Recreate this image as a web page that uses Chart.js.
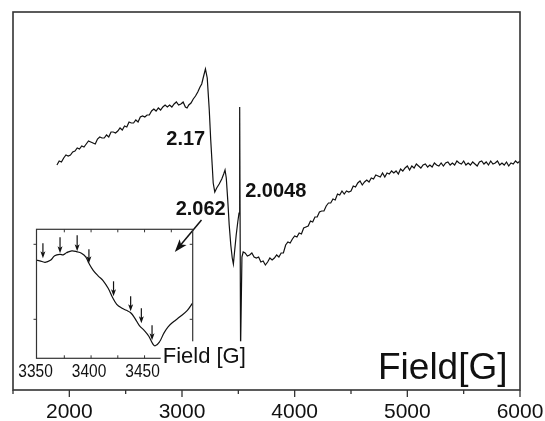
<!DOCTYPE html>
<html>
<head>
<meta charset="utf-8">
<script src="https://cdn.jsdelivr.net/npm/chart.js@4.4.1/dist/chart.umd.min.js"></script>
<style>
  body { margin: 0; background: #fff; }
  #wrap { position: relative; width: 545px; height: 421px; }
  #wrap canvas { position: absolute; left: 0; top: 0; }
</style>
</head>
<body>
<div id="wrap">
  <canvas id="epr" width="545" height="421"></canvas>
  <canvas id="inset" width="545" height="421"></canvas>
</div>
<script>
// main EPR spectrum, field in G, signal in arbitrary units
const fieldG = [
  1890,1910,1930,1950,1970,1990,2010,2030,2050,2070,
  2090,2110,2130,2150,2170,2190,2210,2230,2250,2270,
  2290,2310,2330,2350,2370,2390,2410,2430,2450,2470,
  2490,2510,2530,2550,2570,2590,2610,2630,2650,2670,
  2690,2710,2730,2750,2770,2790,2810,2830,2850,2870,
  2890,2910,2930,2950,2970,2990,3010,3030,
  3045,3060,3080,3100,3120,3140,3160,3175,3190,3208,
  3224,3242,3255,3268,3277,3291,3308,3330,3353,3370,
  3382,3393,3406,3419,3433,3446,3456,3468,3481,3495,
  3506,3512,3520,3532,3543,
  3560,3580,3600,3620,3640,3660,3680,3700,3720,3740,
  3760,3780,3800,3820,3840,3860,3880,3900,3920,3940,
  3960,3980,4000,4020,4040,4060,4080,4100,4120,4140,
  4160,4180,4200,4220,4240,4260,4280,4300,4320,4340,
  4360,4380,4400,4420,4440,4460,4480,4500,4520,4540,
  4560,4580,4600,4620,4640,4660,4680,4700,4720,4740,
  4760,4780,4800,4820,4840,4860,4880,4900,4920,4940,
  4960,4980,5000,5020,5040,5060,5080,5100,5120,5140,
  5160,5180,5200,5220,5240,5260,5280,5300,5320,5340,
  5360,5380,5400,5420,5440,5460,5480,5500,5520,5540,
  5560,5580,5600,5620,5640,5660,5680,5700,5720,5740,
  5760,5780,5800,5820,5840,5860,5880,5900,5920,5940,
  5960,5980,6000
];
const signal = [
  225,229,228,232,235,234,235,238,239,242,
  241,244,243,246,249,248,247,246,251,253,
  252,252,255,253,258,258,257,259,262,260,
  264,263,268,267,267,270,268,273,274,273,
  275,275,279,281,279,282,280,283,285,283,
  285,283,286,288,285,286,288,283,
  282,285,287,291,294,298,303,306,313,321,
  312,280,250,225,207,198,202,206,211,216,
  220,212,190,165,145,132,126,140,155,168,
  177,283,41,133,138,
  137,134,135,137,133,132,133,128,129,125,
  128,132,130,132,135,133,137,137,145,148,
  147,151,154,153,157,156,162,163,164,169,
  168,173,173,178,179,179,184,187,187,191,
  190,196,195,199,196,199,198,199,204,203,
  207,209,205,208,210,208,212,211,215,214,
  213,217,213,217,216,219,217,219,216,221,
  219,222,224,220,224,222,226,224,222,225,
  226,223,225,223,227,225,224,227,224,227,
  228,225,227,225,229,227,226,229,225,227,
  225,228,226,224,228,229,226,228,225,229,
  226,227,229,225,227,225,228,224,227,226,
  229,227,229
];
const xMajor = [2000, 3000, 4000, 5000, 6000];
const xMinor = [1500, 2500, 3500, 4500, 5500];

// g-value labels
const gLabels = ['2.17', '2.062', '2.0048'];
const gLabelField = [3033, 3166, 3832];
const gLabelSignal = [251, 181, 199];
// arrow from 2.062 to the inset
const bigArrowField = [3173, 2936];
const bigArrowSignal = [170, 138];

// inset: zoom of 3350-3495 G
const insetField = [3349,3352,3357,3362,3366,3371,3374,3377,3382,3387,3391,3395,3398,3402,3407,3411,3416,3420,3424,3429,3433,3437,3441,3445,3450,3454,3458,3460,3464,3468,3472,3477,3483,3490,3495];
const insetSignal = [98,97.5,96,98,102.5,104,103.5,105.5,107.5,106.5,105,101.5,95,88,82,78,70,61,54,50,48,45.5,40,33,27.5,22,14,12.5,16.5,25,31.5,36.5,41.5,48,55.5];
const insetTicks = [3350, 3400, 3450];
const insetMinor = [3375, 3400, 3425, 3450, 3475];
const insetYTicks = [39, 114];
const arrowField = [3355, 3371, 3387, 3398, 3421, 3437, 3447, 3457];
const arrowTop = [115, 121, 123, 109, 77, 62, 50, 33];
const arrowTip = [100, 105, 107, 95, 62, 47, 35, 18];

const family = "'Liberation Sans', Arial, sans-serif";

function drawArrow(ctx, x1, y1, x2, y2, head, width) {
  const a = Math.atan2(y2 - y1, x2 - x1);
  const c = Math.cos(a), s = Math.sin(a);
  ctx.beginPath();
  ctx.moveTo(x1, y1);
  ctx.lineTo(x2 - c * head * 0.6, y2 - s * head * 0.6);
  ctx.stroke();
  ctx.beginPath();
  ctx.moveTo(x2, y2);
  ctx.lineTo(x2 - head * c + width / 2 * s, y2 - head * s - width / 2 * c);
  ctx.lineTo(x2 - head * 0.75 * c, y2 - head * 0.75 * s);
  ctx.lineTo(x2 - head * c - width / 2 * s, y2 - head * s + width / 2 * c);
  ctx.closePath();
  ctx.fill();
}

const mainDecor = {
  id: 'mainDecor',
  afterDatasetsDraw(chart) {
    const { ctx, chartArea: ca } = chart;
    const xs = chart.scales.x, ys = chart.scales.y;
    ctx.save();
    ctx.strokeStyle = '#333';
    ctx.lineWidth = 1.6;
    ctx.strokeRect(ca.left, ca.top, ca.right - ca.left, ca.bottom - ca.top);
    // outward ticks
    ctx.lineWidth = 1.3;
    ctx.beginPath();
    xMajor.forEach(v => { const p = xs.getPixelForValue(v); ctx.moveTo(p, ca.bottom); ctx.lineTo(p, ca.bottom + 7); });
    xMinor.forEach(v => { const p = xs.getPixelForValue(v); ctx.moveTo(p, ca.bottom); ctx.lineTo(p, ca.bottom + 4); });
    ctx.stroke();

    ctx.fillStyle = '#111';
    ctx.font = 'bold 20px ' + family;
    ctx.textAlign = 'center';
    ctx.textBaseline = 'middle';
    gLabels.forEach((t, i) => {
      ctx.fillText(t, xs.getPixelForValue(gLabelField[i]), ys.getPixelForValue(gLabelSignal[i]));
    });

    ctx.strokeStyle = '#111';
    ctx.lineWidth = 1.5;
    drawArrow(ctx,
      xs.getPixelForValue(bigArrowField[0]), ys.getPixelForValue(bigArrowSignal[0]),
      xs.getPixelForValue(bigArrowField[1]), ys.getPixelForValue(bigArrowSignal[1]), 13, 9);

    ctx.font = '37px ' + family;
    ctx.textAlign = 'left';
    ctx.textBaseline = 'alphabetic';
    ctx.fillText('Field[G]', ca.right - 142, ca.bottom - 11);
    ctx.restore();
  }
};

new Chart(document.getElementById('epr'), {
  type: 'line',
  data: {
    datasets: [{
      data: fieldG.map((x, i) => ({ x: x, y: signal[i] })),
      borderColor: '#111',
      borderWidth: 1.2,
      pointRadius: 0,
      tension: 0,
      fill: false
    }]
  },
  options: {
    responsive: false,
    animation: false,
    layout: { autoPadding: false, padding: { left: 13, top: 12, right: 25, bottom: 0 } },
    plugins: { legend: { display: false }, tooltip: { enabled: false } },
    scales: {
      x: {
        type: 'linear', min: 1500, max: 6000,
        afterBuildTicks: s => { s.ticks = xMajor.map(v => ({ value: v })); },
        afterFit: s => {
          s.height = 31;
          s.paddingLeft = 0; s.paddingRight = 0; s.paddingTop = 0; s.paddingBottom = 0;
        },
        grid: { display: false, drawTicks: false },
        border: { display: false },
        ticks: { padding: 10, color: '#111', font: { family: family, size: 21 }, callback: v => String(v) }
      },
      y: { display: false, min: 0, max: 378 }
    }
  },
  plugins: [mainDecor]
});

const insetDecor = {
  id: 'insetDecor',
  afterDatasetsDraw(chart) {
    const { ctx, chartArea: ca } = chart;
    const xs = chart.scales.x, ys = chart.scales.y;
    ctx.save();
    ctx.strokeStyle = '#333';
    ctx.fillStyle = '#111';
    ctx.lineWidth = 1.2;
    ctx.strokeRect(ca.left, ca.top, ca.right - ca.left, ca.bottom - ca.top);
    ctx.lineWidth = 1;
    ctx.beginPath();
    insetMinor.forEach(v => {
      const p = xs.getPixelForValue(v);
      ctx.moveTo(p, ca.top); ctx.lineTo(p, ca.top + 3);
      ctx.moveTo(p, ca.bottom); ctx.lineTo(p, ca.bottom - 3);
    });
    insetYTicks.forEach(v => {
      const p = ys.getPixelForValue(v);
      ctx.moveTo(ca.left, p); ctx.lineTo(ca.left - 3, p);
      ctx.moveTo(ca.right, p); ctx.lineTo(ca.right - 3, p);
    });
    ctx.stroke();

    // condensed tick labels
    ctx.font = '18px ' + family;
    ctx.textAlign = 'center';
    ctx.textBaseline = 'middle';
    insetTicks.forEach(v => {
      ctx.save();
      ctx.translate(xs.getPixelForValue(v) - 2, ca.bottom + 14);
      ctx.scale(0.86, 1);
      ctx.fillText(String(v), 0, 0);
      ctx.restore();
    });

    ctx.strokeStyle = '#111';
    ctx.lineWidth = 1.2;
    arrowField.forEach((f, i) => {
      const p = xs.getPixelForValue(f);
      drawArrow(ctx, p, ys.getPixelForValue(arrowTop[i]), p, ys.getPixelForValue(arrowTip[i]), 7, 5);
    });

    // axis name with white box over the corner
    ctx.fillStyle = '#fff';
    ctx.fillRect(ca.right - 32, ca.bottom - 17, 90, 31);
    ctx.fillStyle = '#111';
    ctx.font = '22px ' + family;
    ctx.textAlign = 'left';
    ctx.textBaseline = 'alphabetic';
    ctx.fillText('Field [G]', ca.right - 30, ca.bottom + 5);
    ctx.restore();
  }
};

new Chart(document.getElementById('inset'), {
  type: 'line',
  data: {
    datasets: [{
      data: insetField.map((x, i) => ({ x: x, y: insetSignal[i] })),
      borderColor: '#111',
      borderWidth: 1.2,
      pointRadius: 0,
      tension: 0.4,
      fill: false
    }]
  },
  options: {
    responsive: false,
    animation: false,
    layout: { autoPadding: false, padding: { left: 36.5, top: 229.3, right: 352.3, bottom: 62.7 } },
    plugins: { legend: { display: false }, tooltip: { enabled: false } },
    scales: {
      x: { type: 'linear', display: false, min: 3349, max: 3495 },
      y: { display: false, min: 0, max: 129 }
    }
  },
  plugins: [insetDecor]
});
</script>
</body>
</html>
